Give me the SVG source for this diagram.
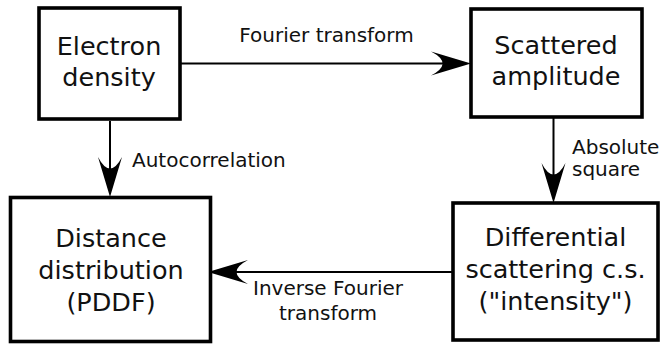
<svg xmlns="http://www.w3.org/2000/svg" width="661" height="344" viewBox="0 0 661 344">
<style>
.box{fill:#fff;stroke:#000;stroke-width:3.6}
.bt{font-family:"DejaVu Sans",sans-serif;font-size:25.5px;text-anchor:middle;fill:#111}
.lb{font-family:"DejaVu Sans",sans-serif;font-size:20px;fill:#111}
.conn{stroke:#000;stroke-width:2;fill:none;marker-end:url(#ah)}
</style>
<defs>
<marker id="ah" markerUnits="userSpaceOnUse" viewBox="-42 -14 44 28" markerWidth="44" markerHeight="28" refX="-20" refY="0" orient="auto">
<path d="M0,0 L-40,-12 Q-17,0 -40,12 Z" fill="#000"/>
</marker>
</defs>
<rect width="661" height="344" fill="#fff"/>
<g id="connectors">
<path class="conn" d="M181,63.5 H451"/>
<path class="conn" d="M110,121 V177"/>
<path class="conn" d="M553.5,117 V183"/>
<path class="conn" d="M453,272 H228"/>
</g>
<g id="electron">
<rect class="box" x="39" y="8" width="141" height="111"/>
<text class="bt" x="109" y="55">Electron</text>
<text class="bt" x="109" y="86">density</text>
</g>
<g id="scattered">
<rect class="box" x="471" y="9" width="171" height="108"/>
<text class="bt" x="556" y="54">Scattered</text>
<text class="bt" x="556" y="85">amplitude</text>
</g>
<g id="pddf">
<rect class="box" x="10.5" y="197.5" width="200" height="144"/>
<text class="bt" x="111" y="247">Distance</text>
<text class="bt" x="111" y="279">distribution</text>
<text class="bt" x="111" y="311">(PDDF)</text>
</g>
<g id="intensity">
<rect class="box" x="453" y="203" width="205" height="137"/>
<text class="bt" x="555.5" y="246">Differential</text>
<text class="bt" x="555.5" y="278">scattering c.s.</text>
<text class="bt" x="555.5" y="310">("intensity")</text>
</g>
<g id="labels">
<text class="lb" x="326.5" y="42" text-anchor="middle">Fourier transform</text>
<text class="lb" x="132" y="167">Autocorrelation</text>
<text class="lb" x="572" y="154" font-size="19.5">Absolute</text>
<text class="lb" x="572" y="176" font-size="19.5">square</text>
<text class="lb" x="328" y="295" text-anchor="middle">Inverse Fourier</text>
<text class="lb" x="328" y="320" text-anchor="middle">transform</text>
</g>
</svg>
